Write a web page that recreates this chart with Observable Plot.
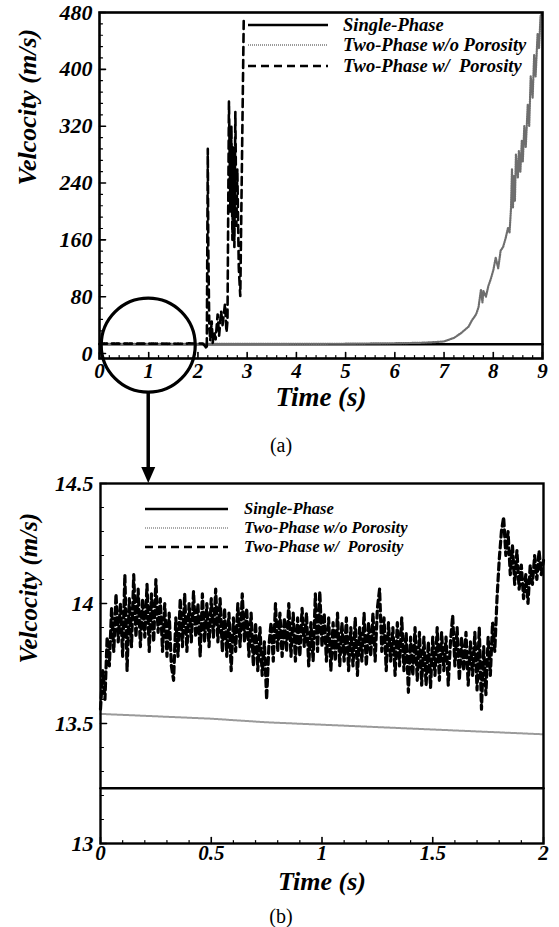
<!DOCTYPE html>
<html><head><meta charset="utf-8">
<script src="https://cdn.jsdelivr.net/npm/d3@7"></script>
<script src="https://cdn.jsdelivr.net/npm/@observablehq/plot@0.6"></script>
<style>
body{margin:0;background:#fff;}
#wrap{position:relative;width:559px;height:927px;overflow:hidden;}
#wrap svg text{font-family:'Liberation Serif';font-weight:bold;font-style:italic;}
#wrap svg text.plain{font-weight:normal;font-style:normal;}
</style>
</head><body>
<div id="wrap"></div>
<script>
// ---------- Data: panel (a), 0–9 s ----------
const singleTimeA = [0, 9];
const singleVelA = [13.23, 13.23];
const woTimeA = [0, 1, 2, 3, 4, 5, 6, 6.5, 6.8, 7.0, 7.2, 7.35, 7.5, 7.56, 7.65, 7.7, 7.75, 7.78, 7.8, 7.85, 7.9, 7.95, 8.0, 8.05, 8.1, 8.15, 8.2, 8.25, 8.3, 8.33, 8.36, 8.38, 8.4, 8.42, 8.44, 8.46, 8.5, 8.52, 8.55, 8.58, 8.6, 8.63, 8.66, 8.7, 8.73, 8.76, 8.8, 8.83, 8.86, 8.9, 8.93, 8.96, 9.0];
const woVelA = [13.54, 13.5, 13.46, 13.5, 13.6, 13.8, 14.5, 15, 16, 17, 22, 29, 38, 46, 55, 65, 90, 72, 88, 80, 95, 105, 117, 135, 120, 145, 150, 162, 177, 170, 204, 260, 205, 250, 215, 280, 247, 285, 255, 300, 270, 320, 290, 350, 320, 390, 360, 420, 390, 450, 430, 475, 480];
const wTimeA = [2.1, 2.15, 2.18, 2.2, 2.21, 2.23, 2.25, 2.28, 2.3, 2.33, 2.36, 2.4, 2.43, 2.47, 2.5, 2.55, 2.58, 2.6, 2.63, 2.66, 2.68, 2.7, 2.72, 2.74, 2.76, 2.78, 2.8, 2.83, 2.86, 2.93];
const wVelA = [13.9, 10, 6, 288, 150, 40, 18, 45, 15, 30, 20, 55, 25, 60, 40, 70, 30, 46, 355, 200, 320, 160, 290, 150, 340, 180, 260, 120, 81, 468];

// ---------- Data: panel (b), 0–2 s ----------
const singleTimeB = [0, 2];
const singleVelB = [13.23, 13.23];
const woTimeB = [0, 0.25, 0.5, 0.75, 1, 1.25, 1.5, 1.75, 2];
const woVelB = [13.54, 13.53, 13.52, 13.505, 13.495, 13.485, 13.475, 13.465, 13.455];
const wStepB = 0.01; // sampling interval of the porosity record (s)
const wVelB = [
13.56,13.72,13.60,13.86,13.74,13.98,13.80,14.04,13.84,14.00,
13.78,14.12,13.72,14.02,13.82,14.12,13.86,14.06,13.82,14.02,
13.86,14.08,13.80,14.04,13.84,14.10,13.88,14.02,13.80,14.00,
13.78,13.96,13.74,13.68,13.94,13.78,14.02,13.82,14.04,13.80,
14.00,13.84,14.05,13.86,14.00,13.78,14.04,13.84,14.00,13.82,
14.02,13.86,14.06,13.84,14.02,13.80,13.98,13.78,13.96,13.72,
13.94,13.80,14.00,13.82,14.04,13.84,13.98,13.78,13.96,13.74,
13.92,13.72,13.90,13.70,13.84,13.60,13.82,13.92,13.76,14.00,
13.80,13.96,13.78,13.94,13.80,14.00,13.78,13.96,13.76,13.94,
13.78,13.98,13.82,13.96,13.74,13.92,13.76,14.04,13.80,14.05,
13.82,13.96,13.76,13.94,13.72,13.92,13.76,13.96,13.74,13.92,
13.76,13.94,13.72,13.90,13.74,13.94,13.70,13.90,13.76,13.96,
13.74,13.92,13.78,13.96,13.76,13.98,14.06,13.80,13.94,13.72,
13.92,13.76,13.90,13.70,13.92,13.74,13.94,13.72,13.88,13.63,
13.86,13.70,13.90,13.68,13.88,13.66,13.86,13.66,13.84,13.65,
13.86,13.70,13.90,13.68,13.88,13.72,13.86,13.66,13.84,13.95,
13.74,13.90,13.68,13.86,13.72,13.88,13.66,13.84,13.70,13.88,
13.64,13.90,13.56,13.82,13.62,13.86,13.70,13.92,13.80,14.02,
14.18,14.30,14.36,14.20,14.30,14.12,14.24,14.08,14.22,14.06,
14.16,14.02,14.12,14.00,14.16,14.08,14.20,14.10,14.22,14.12,
14.18];

// ---------- Tick labels ----------
const xTicksA = [0,1,2,3,4,5,6,7,8,9];
const yTicksA = [0,80,160,240,320,400,480];
const xTicksB = [0,0.5,1,1.5,2];
const yTicksB = [13,13.5,14,14.5];
const seriesNames = ["Single-Phase", "Two-Phase w/o Porosity", "Two-Phase w/  Porosity"];

// ---------- build tables ----------
const zip = (ts, vs) => ts.map((t, i) => ({t, v: vs[i]}));
const wB = wVelB.map((v, i) => ({t: +(i * wStepB).toFixed(2), v}));
const singleA = zip(singleTimeA, singleVelA);
const woA = zip(woTimeA, woVelA);
const wA = wB.concat(zip(wTimeA, wVelA));
const singleB = zip(singleTimeB, singleVelB);
const woB = zip(woTimeB, woVelB);

const FF = "Liberation Serif";
const tickShape = {draw(ctx, l){ ctx.moveTo(0,0); ctx.lineTo(0,-l); }};
function xTicksMark(vals, len, sw){
  return Plot.vector(vals, {x: d => d, frameAnchor: "bottom", length: len, rotate: 0, anchor: "start", shape: tickShape, stroke: "black", strokeWidth: sw});
}
function yTicksMark(vals, len, sw){
  return Plot.vector(vals, {y: d => d, frameAnchor: "left", length: len, rotate: 90, anchor: "start", shape: tickShape, stroke: "black", strokeWidth: sw});
}
const fmt = d => String(d);
const styleBase = {background: "transparent", overflow: "visible"};
const textOpts = {fontFamily: FF, fontWeight: "bold", fontStyle: "italic"};
const wrap = document.getElementById("wrap");

// ---------- Panel (a) ----------
const chartA = Plot.plot({
  width: 559, height: 420,
  marginLeft: 99, marginRight: 17, marginTop: 12, marginBottom: 62,
  style: styleBase,
  x: {domain: [0, 9]},
  y: {domain: [-7, 480]},
  marks: [
    Plot.line(singleA, {x: "t", y: "v", stroke: "black", strokeWidth: 2.5}),
    Plot.line(woA, {x: "t", y: "v", stroke: "#6e6e6e", strokeWidth: 2.2, strokeDasharray: "1,1.3"}),
    Plot.line(wA, {x: "t", y: "v", stroke: "black", strokeWidth: 2.6, strokeDasharray: "8,5"}),
    xTicksMark(xTicksA, 6, 1.6),
    xTicksMark(d3.range(0, 9.001, 0.2).filter(v => Math.abs(v - Math.round(v)) > 1e-6), 3, 1.2),
    yTicksMark(yTicksA, 6, 1.6),
    yTicksMark(d3.range(0, 480, 16).filter(v => v % 80 !== 0), 3, 1.2),
    Plot.axisX(xTicksA, {tickSize: 0, tickPadding: 5, fontSize: 21, tickFormat: fmt, label: null, ...textOpts}),
    Plot.axisY(yTicksA, {tickSize: 0, tickPadding: 7, fontSize: 22, tickFormat: fmt, label: null, ...textOpts}),
    Plot.frame({stroke: "black", strokeWidth: 2.6}),
    Plot.text(["Time (s)"], {text: d => d, frameAnchor: "bottom", dy: 47, fontSize: 27, ...textOpts}),
    Plot.text(["Velcocity (m/s)"], {text: d => d, frameAnchor: "left", dx: -72, rotate: -90, fontSize: 26, ...textOpts})
  ]
});
chartA.style.position = "absolute";
chartA.style.top = "0px";
chartA.style.left = "0px";
wrap.appendChild(chartA);

// ---------- Panel (b) ----------
const topB = 440;
const chartB = Plot.plot({
  width: 559, height: 460,
  marginLeft: 100, marginRight: 16, marginTop: 43, marginBottom: 57,
  style: styleBase,
  x: {domain: [0, 2]},
  y: {domain: [13, 14.5]},
  marks: [
    Plot.line(singleB, {x: "t", y: "v", stroke: "black", strokeWidth: 2.5}),
    Plot.line(woB, {x: "t", y: "v", stroke: "#9a9a9a", strokeWidth: 2, strokeDasharray: "1,1"}),
    Plot.line(wB, {x: "t", y: "v", stroke: "black", strokeWidth: 3.2, strokeDasharray: "7,4"}),
    xTicksMark(xTicksB, 6, 1.6),
    xTicksMark(d3.range(0, 2.001, 0.1).filter(v => Math.abs(v*2 - Math.round(v*2)) > 1e-6), 3, 1.2),
    yTicksMark(yTicksB, 6, 1.6),
    yTicksMark(d3.range(13, 14.5, 0.1).filter(v => Math.abs(v*2 - Math.round(v*2)) > 1e-6), 3, 1.2),
    Plot.axisX(xTicksB, {tickSize: 0, tickPadding: 2, fontSize: 21, tickFormat: fmt, label: null, ...textOpts}),
    Plot.axisY(yTicksB, {tickSize: 0, tickPadding: 7, fontSize: 22, tickFormat: fmt, label: null, ...textOpts}),
    Plot.frame({stroke: "black", strokeWidth: 2.4}),
    Plot.text(["Time (s)"], {text: d => d, frameAnchor: "bottom", dy: 46, fontSize: 26, ...textOpts}),
    Plot.text(["Velcocity (m/s)"], {text: d => d, frameAnchor: "left", dx: -72, rotate: -90, fontSize: 25, ...textOpts})
  ]
});
chartB.style.position = "absolute";
chartB.style.top = topB + "px";
chartB.style.left = "0px";
wrap.appendChild(chartB);

// ---------- Overlay: legends, zoom circle, arrow, panel labels ----------
const ov = d3.select(wrap).append("svg")
  .attr("width", 559).attr("height", 927)
  .style("position", "absolute").style("top", "0px").style("left", "0px")
  .style("pointer-events", "none").style("overflow", "visible");

function legend(x0, x1, xt, rows, fs, styles){
  const g = ov.append("g");
  seriesNames.forEach((name, i) => {
    const s = styles[i];
    g.append("line").attr("x1", x0).attr("x2", x1).attr("y1", rows[i]).attr("y2", rows[i])
      .attr("stroke", s.stroke).attr("stroke-width", s.w).attr("stroke-dasharray", s.dash || null);
    g.append("text").attr("x", xt).attr("y", rows[i]).attr("dy", "0.32em")
      .attr("font-family", FF).attr("font-weight", "bold").attr("font-style", "italic").attr("font-size", fs)
      .attr("xml:space", "preserve").style("white-space", "pre").text(name);
  });
}
legend(248, 328, 343, [25, 45, 66], 18.5, [
  {stroke: "black", w: 2.5}, {stroke: "#999", w: 2, dash: "1,1"}, {stroke: "black", w: 2.6, dash: "8,5"}]);
legend(145, 228, 244, [509, 528, 547], 16.5, [
  {stroke: "black", w: 2.5}, {stroke: "#aaa", w: 2, dash: "1,1"}, {stroke: "black", w: 2.5, dash: "8,5"}]);

// zoom circle around t = 0..2 of panel (a)
const sxA = chartA.scale("x"), syA = chartA.scale("y");
const cx = sxA.apply(1), cy = syA.apply(11), r = 47;
ov.append("circle").attr("cx", cx).attr("cy", cy).attr("r", r)
  .attr("fill", "none").attr("stroke", "black").attr("stroke-width", 3.2);
const arrowTip = topB + 43;
ov.append("line").attr("x1", cx).attr("x2", cx).attr("y1", cy + r).attr("y2", arrowTip - 14)
  .attr("stroke", "black").attr("stroke-width", 3.5);
ov.append("path").attr("d", `M${cx-7},${arrowTip-16}L${cx+7},${arrowTip-16}L${cx},${arrowTip}Z`).attr("fill", "black");

// panel labels
ov.append("text").attr("class", "plain").attr("x", 281).attr("y", 445).attr("dy", "0.35em").attr("text-anchor", "middle")
  .attr("font-family", FF).attr("font-size", 20).text("(a)");
ov.append("text").attr("class", "plain").attr("x", 281).attr("y", 916).attr("dy", "0.35em").attr("text-anchor", "middle")
  .attr("font-family", FF).attr("font-size", 20).text("(b)");
</script>
</body></html>
